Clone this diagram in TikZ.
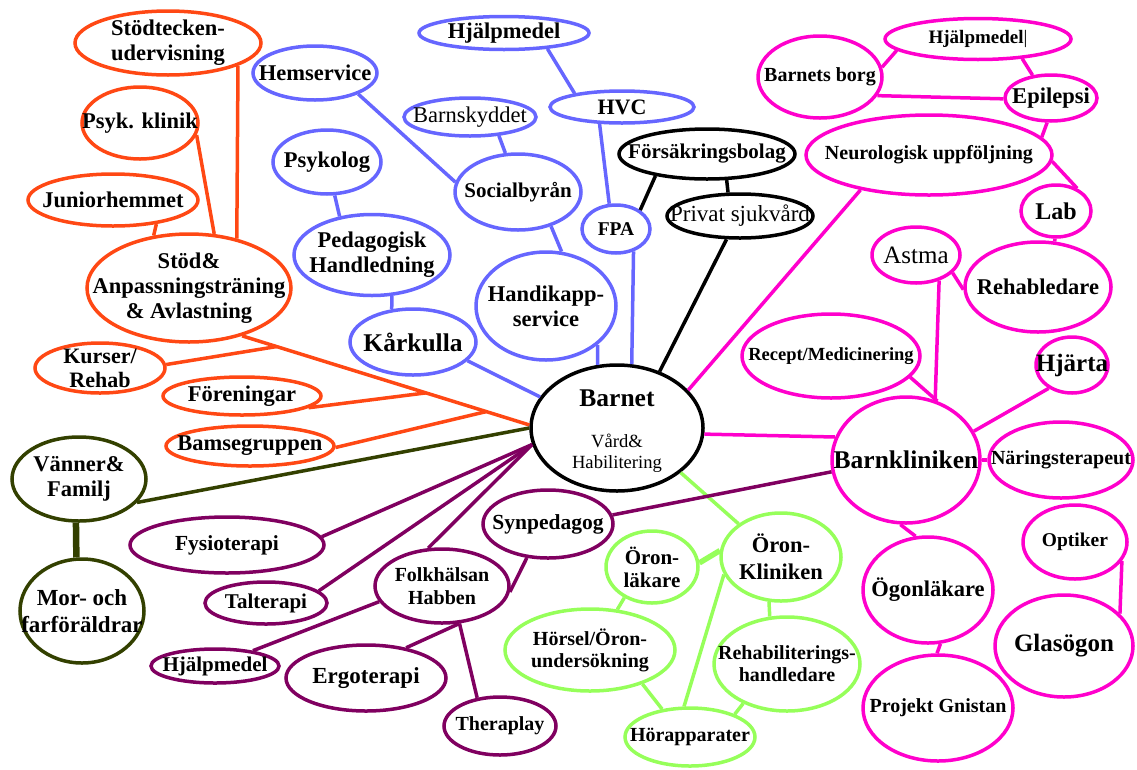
\documentclass[tikz,border=0pt]{standalone}
\usepackage{fontspec}
\setmainfont{Liberation Serif}
\usetikzlibrary{shapes.geometric, calc}

\begin{document}
\begin{tikzpicture}[x=1pt, y=-1pt]
            \tikzset{
                bub/.style={ellipse, line width=3.5pt, inner sep=0pt},
                every label/.style={align=center, text=black, inner sep=0pt},
                fnt/.style 2 args={font=\bfseries\fontsize{#1}{#2}\selectfont},
                rfnt/.style 2 args={font=\fontsize{#1}{#2}\selectfont},
                link/.style={line width=3.5pt}
            }

            % Colours of the groups
            \definecolor{orng}{RGB}{255,72,20}
            \definecolor{blu}{RGB}{102,102,255}
            \definecolor{mag}{RGB}{255,0,204}
            \definecolor{grn}{RGB}{150,255,90}
            \definecolor{purp}{RGB}{128,0,96}
            \definecolor{oliv}{RGB}{51,64,0}

            \useasboundingbox (0,0) rectangle (1137,769);

            % --- CENTRE ---
            \node[bub, draw=black, minimum width=172, minimum height=126,
                label={[fnt={25.5}{28}, yshift=30pt]center:Barnet},
                label={[rfnt={18.6}{21}, yshift=-25pt]center:Vård\&\\Habilitering}] (barnet) at (617,428) {};

            % --- ORANGE: Stöd & Avlastning ---
            \node[bub, draw=orng, minimum width=186, minimum height=64, label={[fnt={22.5}{25}]center:Stödtecken-\\udervisning}] (stodteck) at (168,43) {};
            \node[bub, draw=orng, minimum width=116, minimum height=72, label={[fnt={22.5}{25}]center:Psyk. klinik}] (psyk) at (140,123) {};
            \node[bub, draw=orng, minimum width=170, minimum height=52, label={[fnt={22.5}{25}]center:Juniorhemmet}] (junior) at (113,200) {};
            \node[bub, draw=orng, minimum width=204, minimum height=108, label={[fnt={22.5}{25}]center:Stöd\&\\Anpassningsträning\\\& Avlastning}] (stod) at (189,288) {};
            \node[bub, draw=orng, minimum width=130, minimum height=50, label={[fnt={22}{24}]center:Kurser/\\Rehab}] (kurser) at (100,368) {};
            \node[bub, draw=orng, minimum width=158, minimum height=38, label={[fnt={22.5}{25}]center:Föreningar}] (foren) at (242,396) {};
            \node[bub, draw=orng, minimum width=168, minimum height=40, label={[fnt={22.5}{25}]center:Bamsegruppen}] (bamse) at (250,446) {};

            % --- BLUE: Kommun / FPA ---
            \node[bub, draw=blu, minimum width=124, minimum height=54, label={[fnt={22.5}{25}]center:Hemservice}] (hemserv) at (315,73) {};
            \node[bub, draw=blu, minimum width=170, minimum height=33, label={[fnt={22.5}{25}]center:Hjälpmedel}] (hjalpb) at (504,33) {};
            \node[bub, draw=blu, minimum width=144, minimum height=32, label={[fnt={22}{24}]center:HVC}] (hvc) at (622,107) {};
            \node[bub, draw=blu, minimum width=132, minimum height=38, label={[rfnt={22.5}{25}]center:Barnskyddet}] (barnsk) at (470,117) {};
            \node[bub, draw=blu, minimum width=126, minimum height=76, label={[fnt={21}{23}]center:Socialbyrån}] (social) at (518,192) {};
            \node[bub, draw=blu, minimum width=108, minimum height=64, label={[fnt={22.5}{25}]center:Psykolog}] (psykolog) at (327,162) {};
            \node[bub, draw=blu, minimum width=156, minimum height=81, label={[fnt={22.5}{25}]center:Pedagogisk\\Handledning}] (pedag) at (372,255) {};
            \node[bub, draw=blu, minimum width=68, minimum height=48, label={[fnt={19.5}{22}]center:FPA}] (fpa) at (616,229) {};
            \node[bub, draw=blu, minimum width=140, minimum height=108, label={[fnt={22.5}{25}]center:Handikapp-\\service}] (handik) at (546,306) {};
            \node[bub, draw=blu, minimum width=126, minimum height=66, label={[fnt={25.5}{28}]center:Kårkulla}] (karkulla) at (413,342) {};

            % --- BLACK: privat ---
            \node[bub, draw=black, minimum width=176, minimum height=50, label={[fnt={21}{23}]center:Försäkringsbolag}] (forsak) at (707,154) {};
            \node[bub, draw=black, minimum width=146, minimum height=44, label={[rfnt={23}{25}]center:Privat sjukvård}] (privat) at (740,216) {};

            % --- MAGENTA: Barnkliniken ---
            \node[bub, draw=mag, minimum width=186, minimum height=41, label={[fnt={19}{21}]center:Hjälpmedel{\mdseries\textbar}}] (hjalpm) at (978,39) {};
            \node[bub, draw=mag, minimum width=124, minimum height=82, label={[fnt={20}{22}]center:Barnets borg}] (borg) at (820,77) {};
            \node[bub, draw=mag, minimum width=92, minimum height=46, label={[fnt={22.5}{25}]center:Epilepsi}] (epilepsi) at (1051,98) {};
            \node[bub, draw=mag, minimum width=246, minimum height=80, label={[fnt={20}{22}]center:Neurologisk uppföljning}] (neuro) at (929,155) {};
            \node[bub, draw=mag, minimum width=70, minimum height=52, label={[fnt={24}{26}]center:Lab}] (lab) at (1056,211) {};
            \node[bub, draw=mag, minimum width=88, minimum height=56, label={[rfnt={25}{27}]center:Astma}] (astma) at (916,255) {};
            \node[bub, draw=mag, minimum width=146, minimum height=90, label={[fnt={22.5}{25}]center:Rehabledare}] (rehab) at (1038,287) {};
            \node[bub, draw=mag, minimum width=178, minimum height=84, label={[fnt={18.5}{21}]center:Recept/Medicinering}] (recept) at (831,356) {};
            \node[bub, draw=mag, minimum width=72, minimum height=56, label={[fnt={25}{27}]center:Hjärta}] (hjarta) at (1072,365) {};
            \node[bub, draw=mag, minimum width=148, minimum height=126, label={[fnt={25.5}{28}]center:Barnkliniken}] (barnklin) at (906,460) {};
            \node[bub, draw=mag, minimum width=144, minimum height=76, label={[fnt={20}{22}]center:Näringsterapeut}] (naring) at (1061,460) {};
            \node[bub, draw=mag, minimum width=104, minimum height=74, label={[fnt={19.5}{22}]center:Optiker}] (optiker) at (1075,542) {};
            \node[bub, draw=mag, minimum width=130, minimum height=106, label={[fnt={22.5}{25}]center:Ögonläkare}] (ogon) at (928,590) {};
            \node[bub, draw=mag, minimum width=138, minimum height=102, label={[fnt={25}{27}]center:Glasögon}] (glas) at (1064,646) {};
            \node[bub, draw=mag, minimum width=150, minimum height=106, label={[fnt={20}{22}]center:Projekt Gnistan}] (gnistan) at (938,708) {};

            % --- GREEN: Öron ---
            \node[bub, draw=grn, minimum width=92, minimum height=72, label={[fnt={21}{23}]center:Öron-\\läkare}] (oronlak) at (652,567) {};
            \node[bub, draw=grn, minimum width=120, minimum height=88, label={[fnt={22.5}{27}]center:Öron-\\Kliniken}] (oronklin) at (781,557) {};
            \node[bub, draw=grn, minimum width=170, minimum height=82, label={[fnt={20}{22}]center:Hörsel/Öron-\\undersökning}] (horsel) at (590,650) {};
            \node[bub, draw=grn, minimum width=146, minimum height=94, label={[fnt={20}{22}]center:Rehabiliterings-\\handledare}] (rehabhand) at (787,664) {};
            \node[bub, draw=grn, minimum width=130, minimum height=58, label={[fnt={20}{22}]center:Hörapparater}] (horapp) at (690,737) {};

            % --- PURPLE: Terapier ---
            \node[bub, draw=purp, minimum width=130, minimum height=68, label={[fnt={21.5}{24}]center:Synpedagog}] (synped) at (548,524) {};
            \node[bub, draw=purp, minimum width=194, minimum height=56, label={[fnt={21.5}{24}]center:Fysioterapi}] (fysio) at (227,545) {};
            \node[bub, draw=purp, minimum width=122, minimum height=42, label={[fnt={21}{23}]center:Talterapi}] (talter) at (266,603) {};
            \node[bub, draw=purp, minimum width=134, minimum height=74, label={[fnt={20}{23}]center:Folkhälsan\\Habben}] (folkh) at (442,586) {};
            \node[bub, draw=purp, minimum width=128, minimum height=34, label={[fnt={21}{23}]center:Hjälpmedel}] (hjalpp) at (215,666) {};
            \node[bub, draw=purp, minimum width=160, minimum height=66, label={[fnt={23}{25}]center:Ergoterapi}] (ergo) at (366,678) {};
            \node[bub, draw=purp, minimum width=112, minimum height=58, label={[fnt={20}{22}]center:Theraplay}] (theraplay) at (500,726) {};

            % --- OLIVE: Familj ---
            \node[bub, draw=oliv, minimum width=134, minimum height=84, label={[fnt={22.5}{25}]center:Vänner\&\\Familj}] (vanner) at (79,479) {};
            \node[bub, draw=oliv, minimum width=124, minimum height=104, label={[fnt={23}{27}]center:Mor- och\\farföräldrar}] (morfar) at (82,611) {};

            % --- CONNECTORS ---
            % orange
            \draw[link, orng] (stodteck.-18) -- (stod.46);
            \draw[link, orng] (psyk.-12) -- (stod.65);
            \draw[link, orng] (junior.-29) -- (stod.124);
            \draw[link, orng] (stod.-42) -- (barnet.178);
            \coordinate (jkurs) at ($(stod.-42)!0.12!(barnet.178)$);
            \coordinate (jfor) at ($(stod.-42)!0.64!(barnet.178)$);
            \coordinate (jbam) at ($(stod.-42)!0.85!(barnet.178)$);
            \draw[link, orng] (kurser.3) -- (jkurs);
            \draw[link, orng] (foren.-10) -- (jfor);
            \draw[link, orng] (bamse.-1) -- (jbam);

            % blue
            \draw[link, blu] (hjalpb.-20) -- (hvc.164);
            \draw[link, blu] (hemserv.-26) -- (social.171);
            \draw[link, blu] (barnsk.-33) -- (social.108);
            \draw[link, blu] (social.-46) -- (handik.74);
            \draw[link, blu] (hvc.-143) -- (fpa.105);
            \draw[link, blu] (fpa.-52) -- (barnet.77);
            \draw[link, blu] (handik.-37) -- (barnet.107);
            \draw[link, blu] (psykolog.-77) -- (pedag.130);
            \draw[link, blu] (pedag.-64) -- (karkulla.123);
            \draw[link, blu] (karkulla.-19) -- (barnet.158);

            % black
            \draw[link] (forsak.-157) -- (fpa.38);
            \draw[link] (forsak.-53) -- (privat.117);
            \draw[link] (privat.-120) -- (barnet.53);

            % magenta
            \draw[link, mag] (borg.9) -- (hjalpm.-172);
            \draw[link, mag] (hjalpm.-24) -- (epilepsi.129);
            \draw[link, mag] (borg.-18) -- (epilepsi.-179);
            \draw[link, mag] (epilepsi.-99) -- (neuro.9);
            \draw[link, mag] (neuro.-3) -- (lab.47);
            \draw[link, mag] (neuro.-153) -- (barnet.28);
            \draw[link, mag] (lab.-92) -- (rehab.70);
            \draw[link, mag] (astma.-26) -- (rehab.-178);
            \draw[link, mag] (astma.-48) -- (barnklin.64);
            \draw[link, mag] (recept.-15) -- (barnklin.62);
            \draw[link, mag] (hjarta.-135) -- (barnklin.23);
            \draw[link, mag] (barnet.-4) -- (barnklin.162);
            \draw[link, mag] (barnklin.0) -- (naring.180);
            \draw[link, mag] (barnklin.-95) -- (ogon.103);
            \draw[link, mag] (ogon.-77) -- (gnistan.91);
            \draw[link, mag] (optiker.-22) -- (glas.30);

            % green
            \draw[link, grn] (barnet.-35) -- (oronklin.142);
            \draw[link, grn, line width=5.5pt] (oronlak.5) -- (oronklin.174);
            \draw[link, grn] (oronlak.-132) -- (horsel.56);
            \draw[link, grn] (horsel.-33) -- (horapp.135);
            \draw[link, grn] (oronklin.-163) -- (horapp.101);
            \draw[link, grn] (oronklin.-105) -- (rehabhand.110);
            \draw[link, grn] (rehabhand.-138) -- (horapp.27);

            % purple
            \draw[link, purp] (fysio.5) -- (barnet.-169);
            \draw[link, purp] (talter.13) -- (barnet.-169);
            \draw[link, purp] (folkh.110) -- (barnet.-169);
            \draw[link, purp] (synped.8) -- (barnklin.-171);
            \draw[link, purp] (synped.-122) -- (folkh.-5);
            \draw[link, purp] (folkh.-166) -- (hjalpp.22);
            \draw[link, purp] (folkh.-65) -- (ergo.37);
            \draw[link, purp] (folkh.-65) -- (theraplay.129);

            % olive
            \draw[link, oliv] (vanner.-22) -- (barnet.180);
            \draw[link, oliv, line width=6.5pt] (vanner.-94) -- (morfar.96);
\end{tikzpicture}
\end{document}
